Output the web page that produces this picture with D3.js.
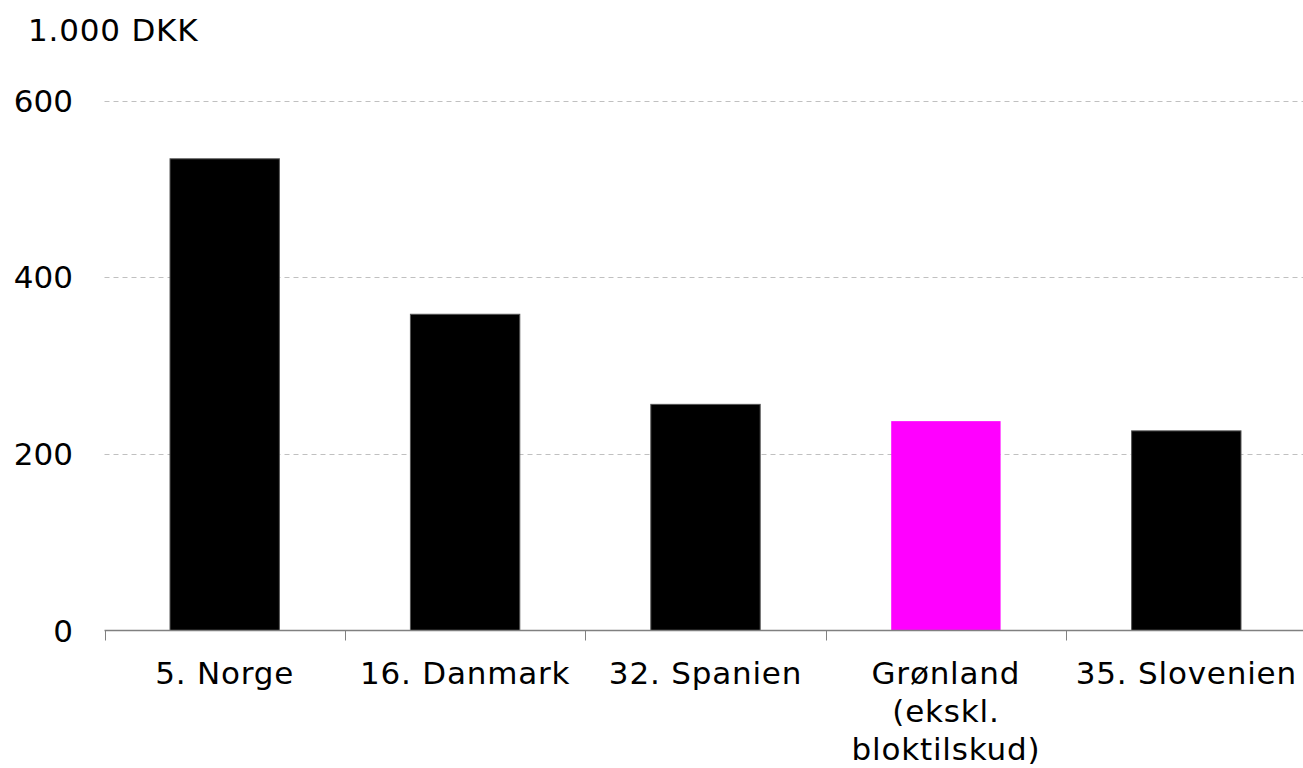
<!DOCTYPE html>
<html>
<head>
<meta charset="utf-8">
<script src="https://cdn.jsdelivr.net/npm/d3@7"></script>
<style>
  body { margin: 0; background: #fff; }
  svg { display: block; font-family: "DejaVu Sans", Verdana, sans-serif; }
  svg text { font-size: 31px; letter-spacing: 0.8px; }
  svg text.ylab { letter-spacing: 0; }
</style>
</head>
<body>
<svg width="1303" height="768"></svg>
<script>
var categories = ["5. Norge", "16. Danmark", "32. Spanien", "Grønland (ekskl. bloktilskud)", "35. Slovenien"];
var labelLines = [["5. Norge"], ["16. Danmark"], ["32. Spanien"], ["Grønland", "(ekskl.", "bloktilskud)"], ["35. Slovenien"]];
var values = [534, 358, 256, 237, 226];
var barColors = ["#000000", "#000000", "#000000", "#ff00ff", "#000000"];
var yTicks = [0, 200, 400, 600];
var unitLabel = "1.000 DKK";

var svg = d3.select("svg"),
    x0 = 104.5, x1 = 1306.5,
    yTop = 100.5, yBase = 630.5;

var x = d3.scaleBand().domain(categories).range([x0, x1]).paddingInner(0.545).paddingOuter(0.2725),
    y = d3.scaleLinear().domain([0, 600]).range([yBase, yTop]);

// gridlines
svg.append("g")
  .selectAll("line")
  .data(yTicks.filter(function(d) { return d > 0; }))
  .enter().append("line")
    .attr("x1", x0).attr("x2", 1303)
    .attr("y1", function(d) { return Math.round(y(d)) + 0.5; })
    .attr("y2", function(d) { return Math.round(y(d)) + 0.5; })
    .style("stroke", "#c0c0c0")
    .style("stroke-dasharray", "5,4");

// y labels
svg.append("g")
  .selectAll("text")
  .data(yTicks)
  .enter().append("text")
    .attr("class", "ylab")
    .attr("x", 73)
    .attr("y", function(d) { return y(d); })
    .attr("dy", "0.36em")
    .attr("text-anchor", "end")
    .attr("fill", "#000")
    .text(function(d) { return d; });

svg.append("text")
    .attr("x", 28).attr("y", 41)
    .attr("fill", "#000")
    .text(unitLabel);

// bars
svg.append("g")
  .selectAll("rect")
  .data(values)
  .enter().append("rect")
    .attr("x", function(d, i) { return x(categories[i]); })
    .attr("y", function(d) { return y(d); })
    .attr("width", x.bandwidth())
    .attr("height", function(d) { return yBase - y(d); })
    .style("fill", function(d, i) { return barColors[i]; })
    .style("stroke", function(d, i) { return barColors[i] === "#000000" ? "#555" : "none"; })
    .style("stroke-width", 1);

// x axis
var axis = svg.append("g");
axis.append("line")
    .attr("x1", x0).attr("x2", 1303)
    .attr("y1", yBase).attr("y2", yBase)
    .style("stroke", "#808080").style("stroke-width", 1.5);

var step = x.step();
axis.selectAll(".tick")
  .data(d3.range(categories.length + 1))
  .enter().append("line")
    .attr("class", "tick")
    .attr("x1", function(i) { return Math.round(x0 + i * step) + 0.5; })
    .attr("x2", function(i) { return Math.round(x0 + i * step) + 0.5; })
    .attr("y1", yBase).attr("y2", yBase + 10)
    .style("stroke", "#808080");

var lab = axis.selectAll(".lab")
  .data(categories)
  .enter().append("text")
    .attr("class", "lab")
    .attr("text-anchor", "middle")
    .attr("fill", "#000")
    .attr("transform", function(d) { return "translate(" + (x(d) + x.bandwidth() / 2) + ",684)"; });

lab.selectAll("tspan")
  .data(function(d, i) { return labelLines[i]; })
  .enter().append("tspan")
    .attr("x", 0)
    .attr("y", function(d, i) { return i * 38; })
    .text(function(d) { return d; });
</script>
</body>
</html>
